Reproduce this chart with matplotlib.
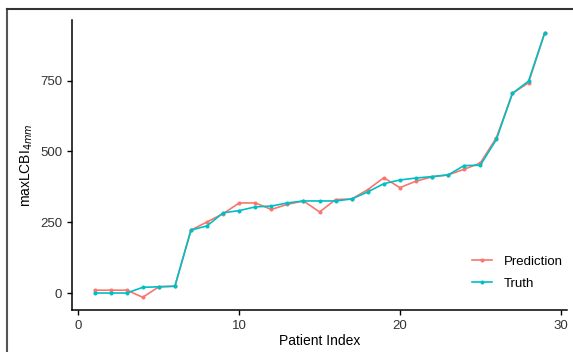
import numpy as np
import matplotlib
matplotlib.use('Agg')
import matplotlib.pyplot as plt
from matplotlib.lines import Line2D

plt.rcParams['font.family'] = ['Liberation Sans', 'DejaVu Sans']

# data
patient = list(range(1, 30))
prediction = [10, 10, 10, -15, 22, 24, 222, 251, 280, 318, 318, 295, 313, 325, 286,
              330, 332, 365, 407, 372, 395, 410, 417, 437, 459, 548, 705, 742, 917]
truth = [0, 0, 0, 20, 22, 24, 222, 237, 283, 291, 304, 307, 318, 325, 325,
         325, 332, 357, 386, 399, 406, 411, 417, 450, 451, 542, 705, 748, 917]
yticks = [0, 250, 500, 750]
xticks = [0, 10, 20, 30]

red = '#F8766D'
cyan = '#00BFC4'

fig = plt.figure(figsize=(5.73, 3.52), dpi=100)
ax = fig.add_axes([0.1257, 0.118, 0.864, 0.825])

ax.plot(patient, prediction, color=red, lw=1.2, marker='o', ms=1.9, label='Prediction')
ax.plot(patient, truth, color=cyan, lw=1.2, marker='o', ms=1.9, label='Truth')

# ggplot-like expansion
allv = prediction + truth
lo, hi = min(allv), max(allv)
pad = (hi - lo) * 0.05
ax.set_ylim(lo - pad, hi + pad)
xpad = (max(patient) - min(patient)) * 0.05
ax.set_xlim(min(patient) - xpad, max(patient) + xpad)

ax.set_xticks(xticks)
ax.set_yticks(yticks)
for s in ['top', 'right']:
    ax.spines[s].set_visible(False)
for s in ['left', 'bottom']:
    ax.spines[s].set_linewidth(1.1)
ax.tick_params(labelsize=9.5, colors='black', labelcolor='#333333', length=3.5, width=1)

ax.set_xlabel('Patient Index', fontsize=10, labelpad=1)
ax.set_ylabel('maxLCBI$_{4mm}$', fontsize=10, labelpad=4)

leg = ax.legend(loc='lower right', bbox_to_anchor=(1.015, 0.03), frameon=False,
                fontsize=9.5, handlelength=1.5, labelspacing=0.75, handletextpad=0.9)

# screenshot frame at top/left
fig.add_artist(Line2D([7 / 573, 7 / 573], [0, 1 - 9 / 352], color='#555555', lw=1.5))
fig.add_artist(Line2D([7 / 573, 1], [1 - 9 / 352, 1 - 9 / 352], color='#333333', lw=1.5))

fig.savefig('out.png', dpi=100)
